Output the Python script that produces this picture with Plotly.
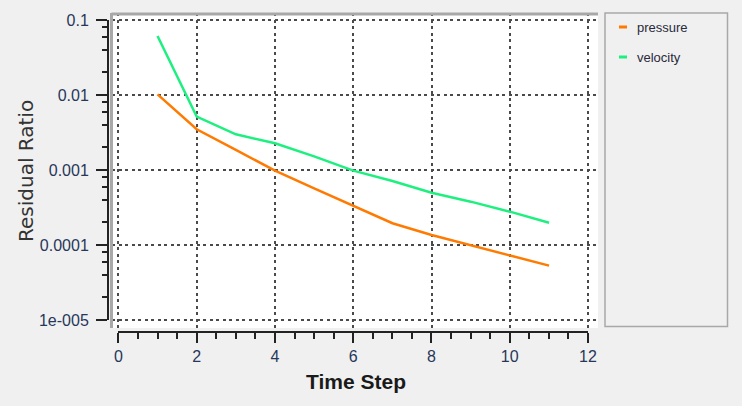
import plotly.graph_objects as go

# ---- data ----
time_step = [1, 2, 3, 4, 5, 6, 7, 8, 9, 10, 11]
pressure = [0.0102, 0.00349, 0.00185, 0.00098, 0.00057, 0.000331, 0.000195, 0.000136, 0.000100, 0.0000736, 0.000053]
velocity = [0.0612, 0.00514, 0.00299, 0.00227, 0.00152, 0.00098, 0.000713, 0.000498, 0.000378, 0.000278, 0.000198]
series_names = ["pressure", "velocity"]
series_colors = ["#ff7a00", "#1ef080"]
x_tick_vals = [0, 2, 4, 6, 8, 10, 12]
y_tick_vals = [1e-5, 1e-4, 1e-3, 1e-2, 1e-1]
y_tick_text = ["1e-005", "0.0001", "0.001", "0.01", "0.1"]
y_minor_vals = [m * 10.0 ** e for e in range(-5, -1) for m in (2, 4, 6, 8)]

# page is 742x406; body keeps its default 8px margin, so the figure is 726x390
PAGE_MARGIN = 8
W, H = 742 - 2 * PAGE_MARGIN, 406 - 2 * PAGE_MARGIN
def px(x):
    return (x - PAGE_MARGIN) / W
def py(y):
    return 1 - (y - PAGE_MARGIN) / H

fig = go.Figure()
# invisible trace to build the tick/axis-line subplot (drawn first, underneath)
fig.add_trace(go.Scatter(x=[None], y=[None], xaxis="x", yaxis="y", showlegend=False,
                         hoverinfo="skip", mode="lines"))
fig.add_trace(go.Scatter(x=time_step, y=pressure, name=series_names[0], mode="lines",
                         line=dict(color=series_colors[0], width=2.5), xaxis="x2", yaxis="y2"))
fig.add_trace(go.Scatter(x=time_step, y=velocity, name=series_names[1], mode="lines",
                         line=dict(color=series_colors[1], width=2.5), xaxis="x2", yaxis="y2"))

grid = dict(showgrid=True, gridcolor="#4a4a4a", griddash="3px,3.5px", gridwidth=2,
            showline=False, zeroline=False, ticks="", showticklabels=False, automargin=False)
tickfont = dict(size=16, color="#27375a")

fig.update_layout(
    width=W, height=H,
    autosize=False,
    margin=dict(l=0, r=0, t=0, b=0, pad=0, autoexpand=False),
    paper_bgcolor="#f0f0f0",
    plot_bgcolor="#ffffff",
    showlegend=False,
    font=dict(family="Liberation Sans, Arial, sans-serif", size=13, color="#27375a"),
    xaxis2=dict(domain=[px(112), px(598)], range=[-0.163, 12.25], tickvals=x_tick_vals,
                anchor="y2", **grid),
    yaxis2=dict(domain=[py(328), py(13)], type="log", range=[-5.107, -0.907],
                tickvals=y_tick_vals, anchor="x2", **grid),
    xaxis=dict(domain=[px(118.4), px(588)], range=[0, 12], anchor="free", position=py(332),
               automargin=False,
               showgrid=False, zeroline=False, showline=True, linecolor="#222222", linewidth=2,
               ticks="outside", ticklen=10, tickwidth=2, tickcolor="#222222",
               tickvals=x_tick_vals, tickfont=tickfont,
               minor=dict(dtick=0.5, tick0=0, ticks="outside", ticklen=6, tickwidth=2,
                          tickcolor="#222222", showgrid=False)),
    yaxis=dict(domain=[py(320), py(20)], type="log", range=[-5, -1], anchor="free",
               position=px(108), automargin=False, showgrid=False, zeroline=False, showline=True,
               linecolor="#222222", linewidth=2, ticks="outside", ticklen=11, tickwidth=2,
               tickcolor="#222222", tickvals=y_tick_vals, ticktext=y_tick_text,
               ticklabelstandoff=4, tickfont=tickfont,
               minor=dict(tickmode="array", tickvals=y_minor_vals, ticks="outside",
                          ticklen=5, tickwidth=2, tickcolor="#222222", showgrid=False)),
)

shapes = [
    # sunken frame (top & left edges)
    dict(type="line", xref="paper", yref="paper", x0=px(111.5), x1=px(598), y0=py(14), y1=py(14),
         line=dict(color="#a8a8a8", width=3)),
    dict(type="line", xref="paper", yref="paper", x0=px(111.5), x1=px(111.5), y0=py(13), y1=py(328),
         line=dict(color="#a8a8a8", width=3)),
    # legend box
    dict(type="rect", xref="paper", yref="paper", x0=px(605), x1=px(727.5), y0=py(326.5), y1=py(13),
         line=dict(color="#a8a8a8", width=1.5), fillcolor="rgba(0,0,0,0)"),
]
annotations = [
    dict(text="Residual Ratio", xref="paper", yref="paper", x=px(26), y=py(171), textangle=-90,
         showarrow=False, font=dict(family="DejaVu Sans, sans-serif", size=20, color="#333333"),
         xanchor="center", yanchor="middle"),
    dict(text="<b>Time Step</b>", xref="paper", yref="paper", x=px(356), y=py(381),
         showarrow=False, font=dict(size=21, color="#1a1a1a"), xanchor="center", yanchor="middle"),
]
legend_y = [27, 57]
for name, color, ly in zip(series_names, series_colors, legend_y):
    shapes.append(dict(type="line", xref="paper", yref="paper", x0=px(619), x1=px(627),
                       y0=py(ly), y1=py(ly), line=dict(color=color, width=3)))
    annotations.append(dict(text=name, xref="paper", yref="paper", x=px(635), y=py(ly),
                            showarrow=False, xanchor="left", yanchor="middle",
                            font=dict(size=13, color="#2a2a3a")))

fig.update_layout(shapes=shapes, annotations=annotations)
fig.write_html("out.html", config={"displayModeBar": False},
               post_script="document.body.style.background='#f0f0f0';")
